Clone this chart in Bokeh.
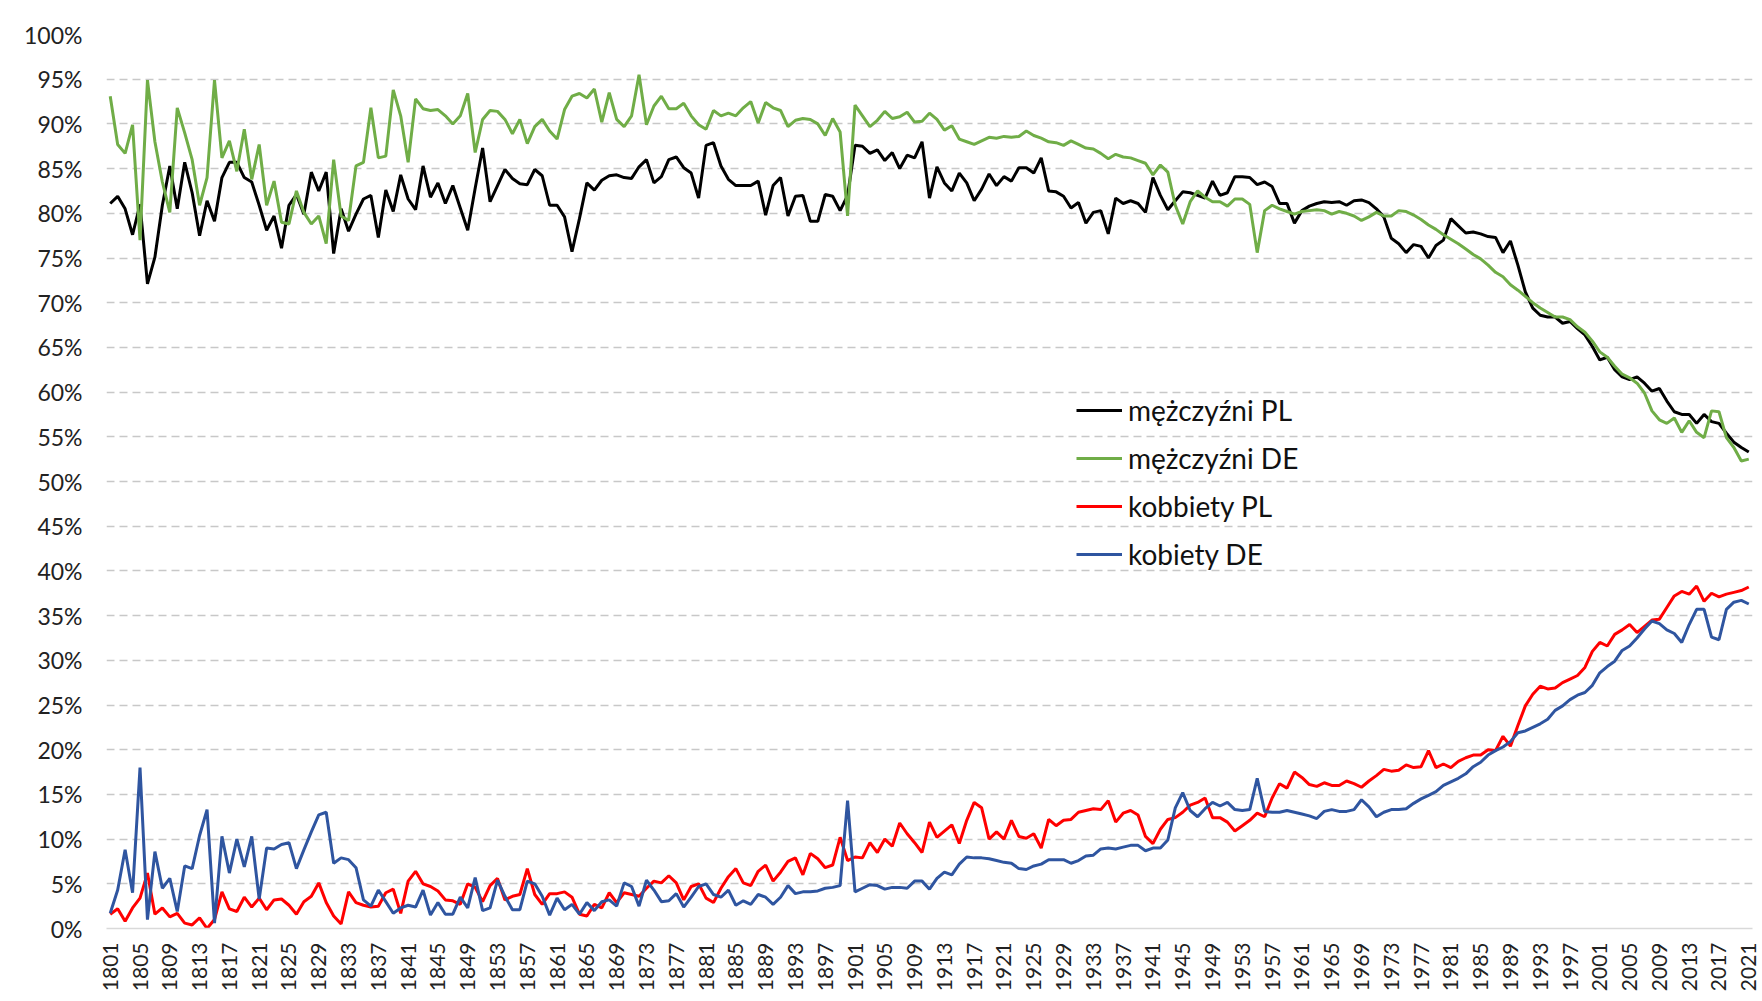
from bokeh.plotting import figure
from bokeh.models import Range1d, FixedTicker, Legend, LegendItem
from bokeh.embed import file_html
from bokeh.resources import INLINE
import math

years = list(range(1801, 2022))
tick_years = list(range(1801, 2022, 4))
y_ticks = list(range(0, 101, 5))
y_tick_labels = [f"{v}%" for v in y_ticks]
series_names = ["mężczyźni PL", "mężczyźni DE", "kobbiety PL", "kobiety DE"]

men_pl = [
    81.1, 81.9, 80.5, 77.6, 81.0, 72.1, 75.1, 80.9, 85.3, 80.5,
    85.7, 82.3, 77.5, 81.4, 79.1, 84.0, 85.7, 85.7, 84.0, 83.5,
    80.9, 78.1, 79.7, 76.1, 80.9, 82.1, 79.9, 84.6, 82.5, 84.6,
    75.5, 80.5, 78.0, 79.9, 81.6, 82.0, 77.3, 82.6, 80.2, 84.3,
    81.6, 80.4, 85.3, 81.8, 83.4, 81.1, 83.1, 80.6, 78.1, 82.8,
    87.3, 81.3, 83.1, 84.9, 83.9, 83.3, 83.2, 84.9, 84.2, 80.9,
    80.9, 79.6, 75.7, 79.4, 83.4, 82.6, 83.7, 84.2, 84.3, 84.0,
    83.9, 85.2, 86.0, 83.4, 84.1, 86.0, 86.3, 85.1, 84.5, 81.7,
    87.6, 87.9, 85.3, 83.8, 83.1, 83.1, 83.1, 83.6, 79.8, 83.1,
    84.0, 79.7, 81.9, 82.0, 79.1, 79.1, 82.1, 81.9, 80.3, 82.0,
    87.6, 87.5, 86.7, 87.1, 85.9, 86.8, 85.0, 86.5, 86.2, 88.0,
    81.7, 85.2, 83.4, 82.5, 84.5, 83.4, 81.4, 82.7, 84.4, 83.1,
    84.1, 83.6, 85.1, 85.1, 84.5, 86.2, 82.5, 82.4, 81.9, 80.6,
    81.2, 78.9, 80.1, 80.3, 77.7, 81.7, 81.1, 81.4, 81.1, 80.1,
    84.0, 82.0, 80.4, 81.4, 82.4, 82.3, 82.0, 81.7, 83.6, 82.0,
    82.3, 84.1, 84.1, 84.0, 83.2, 83.5, 83.0, 81.1, 81.1, 78.9,
    80.3, 80.8, 81.1, 81.3, 81.2, 81.3, 80.9, 81.4, 81.5, 81.2,
    80.5, 79.6, 77.2, 76.6, 75.6, 76.5, 76.3, 75.0, 76.4, 77.0,
    79.4, 78.6, 77.8, 77.9, 77.7, 77.4, 77.3, 75.6, 76.9, 74.2,
    71.2, 69.4, 68.6, 68.4, 68.4, 67.7, 67.9, 67.1, 66.4, 65.1,
    63.6, 63.9, 62.5, 61.7, 61.4, 61.7, 61.0, 60.1, 60.4, 59.0,
    57.8, 57.5, 57.5, 56.5, 57.5, 56.7, 56.5, 55.4, 54.4, 53.8,
    53.3,
]

men_de = [
    93.1, 87.7, 86.7, 89.9, 77.0, 94.9, 88.0, 83.5, 80.1, 91.8,
    89.0, 86.0, 80.9, 84.0, 94.9, 86.2, 88.1, 84.7, 89.4, 83.8,
    87.7, 80.9, 83.6, 79.0, 78.8, 82.5, 80.1, 78.8, 79.7, 76.6,
    86.0, 79.7, 79.2, 85.3, 85.7, 91.8, 86.2, 86.4, 93.8, 90.9,
    85.7, 92.8, 91.7, 91.5, 91.6, 90.9, 90.0, 90.9, 93.4, 86.8,
    90.5, 91.5, 91.4, 90.5, 88.9, 90.5, 87.8, 89.7, 90.5, 89.2,
    88.3, 91.6, 93.1, 93.4, 92.9, 93.9, 90.2, 93.5, 90.5, 89.7,
    90.9, 95.5, 89.9, 92.0, 93.1, 91.7, 91.7, 92.3, 90.9, 89.9,
    89.4, 91.5, 90.9, 91.2, 90.9, 91.8, 92.5, 90.1, 92.4, 91.8,
    91.5, 89.7, 90.4, 90.6, 90.5, 90.0, 88.7, 90.6, 89.1, 79.7,
    92.1, 90.9, 89.7, 90.4, 91.4, 90.6, 90.8, 91.3, 90.2, 90.3,
    91.2, 90.5, 89.3, 89.8, 88.3, 88.0, 87.7, 88.1, 88.5, 88.4,
    88.6, 88.5, 88.6, 89.2, 88.7, 88.4, 88.0, 87.9, 87.6, 88.1,
    87.7, 87.3, 87.2, 86.7, 86.1, 86.6, 86.3, 86.2, 85.9, 85.6,
    84.3, 85.4, 84.6, 80.9, 78.8, 81.3, 82.5, 81.8, 81.3, 81.3,
    80.8, 81.6, 81.6, 81.0, 75.6, 80.3, 80.9, 80.5, 80.2, 79.9,
    80.2, 80.3, 80.4, 80.3, 79.9, 80.2, 80.0, 79.7, 79.2, 79.6,
    80.1, 79.7, 79.7, 80.3, 80.2, 79.8, 79.3, 78.7, 78.2, 77.6,
    77.1, 76.6, 76.0, 75.4, 74.9, 74.2, 73.4, 72.9, 72.0, 71.4,
    70.7, 70.0, 69.4, 68.9, 68.4, 68.4, 68.1, 67.3, 66.7, 65.7,
    64.5, 63.9, 62.9, 62.0, 61.6, 61.0, 59.9, 57.9, 56.9, 56.5,
    57.1, 55.5, 56.8, 55.5, 54.9, 57.9, 57.8, 54.9, 53.8, 52.3,
    52.5,
]

women_pl = [
    1.6, 2.2, 0.8, 2.3, 3.4, 6.2, 1.6, 2.3, 1.3, 1.7,
    0.6, 0.4, 1.2, 0.0, 1.0, 4.1, 2.2, 1.9, 3.5, 2.4,
    3.4, 2.1, 3.2, 3.3, 2.6, 1.6, 3.0, 3.6, 5.1, 2.9,
    1.4, 0.5, 4.1, 2.9, 2.6, 2.4, 2.5, 4.0, 4.4, 1.7,
    5.3, 6.4, 5.0, 4.7, 4.2, 3.2, 3.1, 2.7, 5.0, 4.6,
    3.0, 4.8, 5.6, 3.2, 3.6, 3.8, 6.7, 3.8, 2.7, 3.9,
    3.9, 4.1, 3.5, 1.6, 1.4, 2.7, 2.3, 4.0, 2.9, 4.0,
    3.8, 3.6, 4.5, 5.3, 5.1, 5.9, 5.1, 3.2, 4.7, 5.0,
    3.4, 2.9, 4.5, 5.8, 6.7, 5.1, 4.8, 6.4, 7.1, 5.3,
    6.3, 7.5, 7.9, 6.0, 8.4, 7.8, 6.8, 7.1, 10.2, 7.6,
    8.0, 7.9, 9.6, 8.5, 10.0, 9.2, 11.8, 10.6, 9.6, 8.5,
    11.9, 10.2, 10.9, 11.6, 9.5, 12.1, 14.1, 13.5, 10.0, 10.8,
    10.0, 12.1, 10.3, 10.1, 10.6, 9.0, 12.2, 11.5, 12.1, 12.2,
    13.0, 13.2, 13.4, 13.3, 14.3, 11.9, 12.9, 13.2, 12.7, 10.3,
    9.5, 11.1, 12.2, 12.4, 13.0, 13.8, 14.1, 14.6, 12.4, 12.4,
    11.9, 10.9, 11.5, 12.1, 12.9, 12.5, 14.6, 16.2, 15.7, 17.5,
    16.9, 16.1, 15.9, 16.3, 16.0, 16.0, 16.5, 16.2, 15.8, 16.5,
    17.1, 17.8, 17.6, 17.7, 18.3, 18.0, 18.1, 19.9, 18.0, 18.4,
    18.0, 18.7, 19.1, 19.4, 19.4, 20.0, 19.9, 21.5, 20.4, 22.7,
    24.9, 26.2, 27.1, 26.8, 26.9, 27.5, 27.9, 28.3, 29.2, 31.0,
    32.0, 31.6, 32.9, 33.4, 34.0, 33.1, 33.8, 34.5, 34.6, 35.9,
    37.2, 37.7, 37.4, 38.3, 36.6, 37.5, 37.1, 37.4, 37.6, 37.8,
    38.2,
]

women_de = [
    1.7, 4.3, 8.8, 4.0, 18.0, 1.0, 8.6, 4.5, 5.6, 1.9,
    7.0, 6.7, 10.4, 13.3, 0.6, 10.3, 6.2, 10.0, 6.9, 10.3,
    3.3, 9.0, 8.9, 9.4, 9.6, 6.7, 8.8, 10.8, 12.7, 13.0,
    7.3, 7.9, 7.7, 6.8, 3.2, 2.5, 4.3, 3.0, 1.7, 2.3,
    2.6, 2.4, 4.3, 1.5, 2.9, 1.6, 1.6, 3.5, 2.3, 5.7,
    2.0, 2.3, 5.4, 3.6, 2.1, 2.1, 5.3, 5.0, 3.6, 1.5,
    3.4, 2.1, 2.7, 1.6, 2.9, 2.0, 3.0, 3.2, 2.5, 5.1,
    4.7, 2.5, 5.4, 4.3, 3.0, 3.1, 3.9, 2.4, 3.5, 4.7,
    5.0, 3.8, 3.5, 4.3, 2.6, 3.1, 2.7, 3.8, 3.5, 2.7,
    3.5, 4.8, 3.9, 4.1, 4.1, 4.2, 4.5, 4.6, 4.8, 14.3,
    4.1, 4.5, 4.9, 4.8, 4.4, 4.6, 4.6, 4.5, 5.3, 5.3,
    4.4, 5.6, 6.3, 6.0, 7.2, 8.0, 7.9, 7.9, 7.8, 7.6,
    7.4, 7.3, 6.7, 6.6, 7.0, 7.2, 7.7, 7.7, 7.7, 7.3,
    7.6, 8.1, 8.2, 8.9, 9.0, 8.9, 9.1, 9.3, 9.3, 8.7,
    9.0, 9.0, 9.9, 13.5, 15.2, 13.2, 12.5, 13.4, 14.1, 13.7,
    14.1, 13.3, 13.2, 13.3, 16.8, 13.1, 13.0, 13.0, 13.2, 13.0,
    12.8, 12.6, 12.3, 13.1, 13.3, 13.1, 13.1, 13.3, 14.4, 13.6,
    12.5, 13.0, 13.3, 13.3, 13.4, 14.0, 14.5, 14.9, 15.3, 16.0,
    16.4, 16.8, 17.3, 18.1, 18.6, 19.4, 19.9, 20.3, 20.9, 21.9,
    22.1, 22.5, 22.9, 23.4, 24.4, 24.9, 25.6, 26.1, 26.4, 27.2,
    28.6, 29.3, 29.9, 31.1, 31.6, 32.5, 33.5, 34.4, 34.1, 33.4,
    33.0, 32.0, 34.0, 35.7, 35.7, 32.6, 32.3, 35.7, 36.5, 36.7,
    36.3,
]

colors = ["#000000", "#70AD47", "#FF0000", "#2F55A0"]
FONT = "Lato"

p = figure(
    width=1762, height=994,
    x_range=Range1d(1800.5, 2021.5), y_range=Range1d(0, 100),
    output_backend="svg", toolbar_location=None,
    min_border_left=106, min_border_right=10, min_border_top=34, min_border_bottom=60,
)
p.outline_line_color = None
p.background_fill_color = "white"
p.border_fill_color = "white"

# y axis
p.yaxis.ticker = FixedTicker(ticks=y_ticks)
p.yaxis.major_label_overrides = {v: lab for v, lab in zip(y_ticks, y_tick_labels)}
p.yaxis.axis_line_color = None
p.yaxis.major_tick_line_color = None
p.yaxis.minor_tick_line_color = None
p.yaxis.major_label_standoff = 18
p.yaxis.major_label_text_font = FONT
p.yaxis.major_label_text_font_size = "23px"
p.yaxis.major_label_text_color = "#222222"

# x axis
p.xaxis.ticker = FixedTicker(ticks=tick_years)
p.xaxis.major_label_overrides = {y: str(y) for y in tick_years}
p.xaxis.major_label_orientation = math.pi / 2
p.xaxis.axis_line_color = "#D9D9D9"
p.xaxis.axis_line_width = 1.5
p.xaxis.major_tick_line_color = None
p.xaxis.minor_tick_line_color = None
p.xaxis.major_label_standoff = 8
p.xaxis.major_label_text_font = FONT
p.xaxis.major_label_text_font_size = "21px"
p.xaxis.major_label_text_color = "#222222"

p.xgrid.grid_line_color = None
p.ygrid.grid_line_color = "#C8C8C8"
p.ygrid.grid_line_width = 1.3
p.ygrid.grid_line_dash = "8 5"

renderers = []
for vals, col in zip([men_pl, men_de, women_pl, women_de], colors):
    r = p.line(years, vals, line_color=col, line_width=3)
    renderers.append(r)

legend = Legend(
    items=[LegendItem(label=n, renderers=[r]) for n, r in zip(series_names, renderers)],
    location=(970, 354),
    orientation="vertical",
    glyph_width=46, glyph_height=40, label_height=40,
    spacing=8, padding=0, margin=0, label_standoff=6,
    background_fill_alpha=0, border_line_color=None,
    label_text_font=FONT, label_text_font_size="28px", label_text_color="#111111",
)
p.add_layout(legend)

open("out.html", "w").write(file_html(p, INLINE))
